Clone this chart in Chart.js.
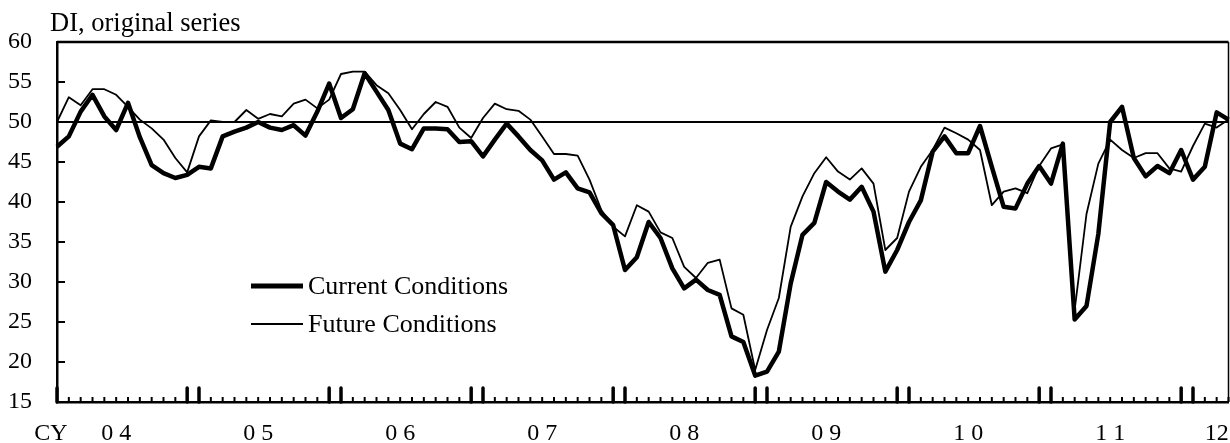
<!DOCTYPE html>
<html>
<head>
<meta charset="utf-8">
<script src="https://cdn.jsdelivr.net/npm/chart.js@4.4.1/dist/chart.umd.min.js"></script>
<style>
  html, body { margin: 0; padding: 0; background: #fff; }
  #wrap { width: 1230px; height: 443px; }
</style>
</head>
<body>
<div id="wrap"><canvas id="myChart" width="1230" height="443"></canvas></div>
<script>
// monthly, Jan 2004 .. Apr 2012
var years = [2004, 2005, 2006, 2007, 2008, 2009, 2010, 2011, 2012];
var months = [];
years.forEach(function(y) {
  for (var m = 1; m <= 12; m++) {
    if (y === 2012 && m > 4) break;
    months.push(y + '-' + (m < 10 ? '0' + m : m));
  }
});

// x axis labels, keyed by the month they sit under
var yearLabels = {
  '2004-01': 'CY  ',
  '2004-06': '0 4', '2005-06': '0 5', '2006-06': '0 6', '2007-06': '0 7',
  '2008-06': '0 8', '2009-06': '0 9', '2010-06': '1 0', '2011-06': '1 1',
  '2012-03': '12'
};

var currentConditions = [
  46.9, 48.2, 51.3, 53.4, 50.7, 49.0, 52.4, 48.1, 44.6, 43.6, 43.0, 43.4,
  44.4, 44.2, 48.2, 48.8, 49.3, 50.0, 49.3, 49.0, 49.6, 48.3, 51.3, 54.8,
  50.5, 51.6, 56.1, 53.8, 51.5, 47.3, 46.6, 49.2, 49.2, 49.1, 47.5, 47.6,
  45.7, 47.8, 49.8, 48.2, 46.5, 45.2, 42.8, 43.7, 41.7, 41.2, 38.6, 37.1,
  31.5, 33.1, 37.5, 35.5, 31.7, 29.2, 30.3, 29.0, 28.4, 23.2, 22.5, 18.3,
  18.8, 21.3, 29.8, 35.9, 37.4, 42.5, 41.3, 40.3, 41.9, 38.8, 31.3, 34.0,
  37.5, 40.2, 46.3, 48.2, 46.1, 46.1, 49.5, 44.4, 39.4, 39.2, 42.3, 44.5,
  42.3, 47.3, 25.3, 27.0, 36.0, 50.0, 51.9, 45.5, 43.2, 44.5, 43.6, 46.5,
  42.8, 44.4, 51.2, 50.3
];

var futureConditions = [
  50.0, 53.1, 52.1, 54.1, 54.1, 53.4, 51.9, 50.3, 49.2, 47.8, 45.5, 43.7,
  48.2, 50.2, 50.0, 50.0, 51.5, 50.4, 51.0, 50.7, 52.3, 52.8, 51.7, 52.8,
  56.0, 56.3, 56.3, 54.6, 53.6, 51.5, 49.1, 51.0, 52.5, 51.9, 49.3, 48.0,
  50.5, 52.3, 51.6, 51.4, 50.3, 48.2, 46.0, 46.0, 45.8, 42.8, 39.0, 36.9,
  35.7, 39.6, 38.8, 36.2, 35.5, 31.9, 30.5, 32.4, 32.8, 26.7, 25.9, 19.0,
  24.0, 28.0, 36.9, 40.7, 43.6, 45.6, 43.8, 42.8, 44.2, 42.3, 34.0, 35.5,
  41.3, 44.4, 46.5, 49.3, 48.6, 47.8, 46.5, 39.6, 41.3, 41.7, 41.1, 44.5,
  46.7, 47.2, 26.5, 38.5, 44.8, 47.8, 46.5, 45.5, 46.1, 46.1, 44.2, 43.8,
  47.0, 49.8, 49.3, 50.3
];

var seriesNames = ['Current Conditions', 'Future Conditions'];
var yAxisTitle = 'DI, original series';

var FONT = "'Liberation Serif', 'Times New Roman', serif";

// frame, reference line, tick marks, legend and axis note
var framePlugin = {
  id: 'frame',
  beforeDatasetsDraw: function(chart) {
    var ctx = chart.ctx, a = chart.chartArea, y = chart.scales.y;
    ctx.save();
    ctx.strokeStyle = '#000';
    ctx.lineWidth = 2;
    var y50 = y.getPixelForValue(50);
    ctx.beginPath();
    ctx.moveTo(a.left, y50);
    ctx.lineTo(a.right, y50);
    ctx.stroke();
    ctx.restore();
  },
  afterDatasetsDraw: function(chart) {
    var ctx = chart.ctx, a = chart.chartArea;
    var xs = chart.scales.x, ys = chart.scales.y;
    ctx.save();
    ctx.strokeStyle = '#000';

    // top and right border
    ctx.lineWidth = 2.5;
    ctx.beginPath();
    ctx.moveTo(a.left, a.top);
    ctx.lineTo(a.right, a.top);
    ctx.stroke();
    ctx.lineWidth = 1.5;
    ctx.beginPath();
    ctx.moveTo(a.right, a.top);
    ctx.lineTo(a.right, a.bottom);
    ctx.stroke();

    // month ticks, tall ones at Dec/Jan
    months.forEach(function(m, i) {
      var px = xs.getPixelForValue(i);
      var mm = m.slice(5);
      var tall = (mm === '12' || mm === '01');
      ctx.lineWidth = tall ? 3.5 : 2;
      ctx.lineCap = tall ? 'round' : 'butt';
      ctx.beginPath();
      ctx.moveTo(px, a.bottom);
      ctx.lineTo(px, a.bottom - (tall ? 14 : 5));
      ctx.stroke();
    });
    ctx.lineCap = 'butt';

    // y ticks inside
    ctx.lineWidth = 2;
    ys.ticks.forEach(function(t) {
      var py = ys.getPixelForValue(t.value);
      ctx.beginPath();
      ctx.moveTo(a.left, py);
      ctx.lineTo(a.left + 8, py);
      ctx.stroke();
    });

    // legend
    var lx = 251, lw = 52;
    var rows = [{ y: 286, w: 5 }, { y: 324, w: 2 }];
    ctx.font = '26px ' + FONT;
    ctx.fillStyle = '#000';
    ctx.textBaseline = 'middle';
    ctx.textAlign = 'left';
    rows.forEach(function(r, k) {
      ctx.lineWidth = r.w;
      ctx.beginPath();
      ctx.moveTo(lx, r.y);
      ctx.lineTo(lx + lw, r.y);
      ctx.stroke();
      ctx.fillText(seriesNames[k], lx + lw + 5, r.y + 1);
    });

    // axis note
    ctx.font = '26.5px ' + FONT;
    ctx.textBaseline = 'alphabetic';
    ctx.fillText(yAxisTitle, 50, 31);
    ctx.restore();
  }
};

var ctx = document.getElementById('myChart').getContext('2d');
var myChart = new Chart(ctx, {
  type: 'line',
  data: {
    labels: months,
    datasets: [
      {
        label: seriesNames[0],
        data: currentConditions,
        borderColor: '#000',
        borderWidth: 4.5,
        pointRadius: 0,
        tension: 0,
        borderJoinStyle: 'round',
        fill: false
      },
      {
        label: seriesNames[1],
        data: futureConditions,
        borderColor: '#000',
        borderWidth: 1.8,
        pointRadius: 0,
        tension: 0,
        borderJoinStyle: 'round',
        fill: false
      }
    ]
  },
  options: {
    responsive: false,
    animation: false,
    devicePixelRatio: 1,
    layout: { padding: { top: 42, right: 1.5, left: 0, bottom: 0 } },
    plugins: {
      legend: { display: false },
      title: { display: false },
      tooltip: { enabled: false }
    },
    scales: {
      x: {
        type: 'category',
        offset: false,
        // tickLength only spaces the labels down; no grid is drawn
        grid: { display: false, drawTicks: true, tickLength: 17 },
        border: { display: true, color: '#000', width: 2.5 },
        ticks: {
          autoSkip: false,
          maxRotation: 0,
          minRotation: 0,
          padding: 0,
          color: '#000',
          font: { family: FONT, size: 24 },
          callback: function(v, i) {
            return yearLabels[months[i]] || '';
          }
        },
        afterFit: function(scale) { scale.height = 41; }
      },
      y: {
        min: 15,
        max: 60,
        grid: { display: false, drawTicks: false },
        border: { display: true, color: '#000', width: 2.5 },
        ticks: {
          stepSize: 5,
          padding: 25,
          color: '#000',
          font: { family: FONT, size: 24 }
        },
        afterFit: function(scale) { scale.width = 57; }
      }
    }
  },
  plugins: [framePlugin]
});
</script>
</body>
</html>
